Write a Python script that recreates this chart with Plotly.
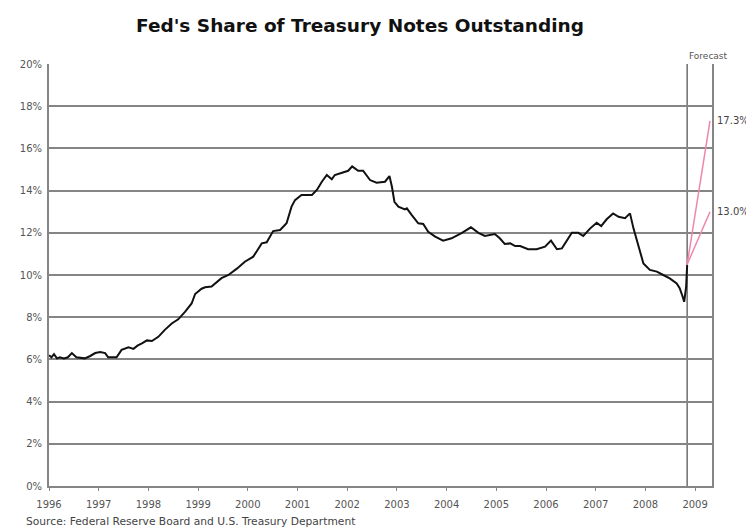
import plotly.graph_objects as go

# ---- data (decimal years, % of Treasury notes outstanding held by the Fed) ----
years = [1996.00, 1996.05, 1996.10, 1996.16, 1996.22, 1996.30, 1996.38, 1996.46, 1996.55, 1996.66,
         1996.72, 1996.82, 1996.93, 1997.03, 1997.13, 1997.19, 1997.28, 1997.36, 1997.46, 1997.53,
         1997.60, 1997.70, 1997.78, 1997.87, 1997.97, 1998.07, 1998.20, 1998.33, 1998.47, 1998.60,
         1998.74, 1998.87, 1998.94, 1999.07, 1999.14, 1999.27, 1999.37, 1999.47, 1999.61, 1999.78,
         1999.94, 2000.11, 2000.20, 2000.28, 2000.38, 2000.51, 2000.65, 2000.78, 2000.88, 2000.95,
         2001.08, 2001.29, 2001.39, 2001.49, 2001.59, 2001.69, 2001.75, 2001.89, 2002.02, 2002.10,
         2002.22, 2002.32, 2002.46, 2002.59, 2002.76, 2002.85, 2002.90, 2002.95, 2003.03, 2003.16,
         2003.20, 2003.30, 2003.43, 2003.53, 2003.63, 2003.77, 2003.93, 2004.10, 2004.30, 2004.49,
         2004.64, 2004.77, 2004.97, 2005.07, 2005.17, 2005.28, 2005.38, 2005.48, 2005.64, 2005.81,
         2005.98, 2006.10, 2006.22, 2006.32, 2006.52, 2006.65, 2006.75, 2006.89, 2007.02, 2007.11,
         2007.22, 2007.35, 2007.46, 2007.59, 2007.69, 2007.76, 2007.86, 2007.96, 2008.09, 2008.23,
         2008.36, 2008.49, 2008.63, 2008.69, 2008.75, 2008.78, 2008.82, 2008.84]
share = [6.20, 6.10, 6.25, 6.05, 6.10, 6.05, 6.10, 6.30, 6.10, 6.05,
         6.05, 6.15, 6.30, 6.35, 6.30, 6.10, 6.10, 6.10, 6.45, 6.50,
         6.57, 6.50, 6.65, 6.76, 6.90, 6.87, 7.07, 7.40, 7.70, 7.90,
         8.26, 8.65, 9.10, 9.35, 9.42, 9.45, 9.65, 9.85, 10.00, 10.30,
         10.63, 10.87, 11.20, 11.50, 11.55, 12.08, 12.13, 12.45, 13.24, 13.55,
         13.79, 13.79, 14.03, 14.42, 14.74, 14.54, 14.74, 14.85, 14.94, 15.15,
         14.94, 14.94, 14.50, 14.37, 14.42, 14.69, 14.18, 13.47, 13.24, 13.11,
         13.16, 12.84, 12.45, 12.42, 12.05, 11.82, 11.63, 11.74, 11.98, 12.26,
         12.00, 11.85, 11.94, 11.74, 11.47, 11.50, 11.37, 11.37, 11.22, 11.22,
         11.34, 11.63, 11.22, 11.26, 12.00, 12.00, 11.85, 12.21, 12.48, 12.32,
         12.64, 12.92, 12.76, 12.69, 12.92, 12.21, 11.34, 10.55, 10.24, 10.16,
         10.00, 9.84, 9.60, 9.37, 8.97, 8.73, 9.45, 10.47]

forecast_start_year = 2008.84
forecast_end_year = 2009.30
forecast_start_value = 10.5
forecast_high = 17.3
forecast_low = 13.0

x_ticks = list(range(1996, 2010))
x_tick_labels = [str(y) for y in x_ticks]
y_ticks = [0, 2, 4, 6, 8, 10, 12, 14, 16, 18, 20]
y_tick_labels = [f"{v}%" for v in y_ticks]

title = "Fed's Share of Treasury Notes Outstanding"
source = "Source: Federal Reserve Board and U.S. Treasury Department"

# ---- figure ----
GRID = "#858585"
PINK = "#ef86ad"
FONT = "DejaVu Sans"
W, H = 746, 520  # page body has an 8px margin

fig = go.Figure()
fig.add_trace(go.Scatter(x=[forecast_start_year, forecast_end_year],
                         y=[forecast_start_value, forecast_high],
                         mode="lines", line=dict(color=PINK, width=1.5), hoverinfo="skip"))
fig.add_trace(go.Scatter(x=[forecast_start_year, forecast_end_year],
                         y=[forecast_start_value, forecast_low],
                         mode="lines", line=dict(color=PINK, width=1.5), hoverinfo="skip"))
fig.add_trace(go.Scatter(x=years, y=share, mode="lines",
                         line=dict(color="#111111", width=2)))

fig.add_shape(type="line", xref="x", yref="y", x0=forecast_start_year, x1=forecast_start_year,
              y0=0, y1=20, line=dict(color="#6e6e6e", width=1.5), layer="below")

fig.update_layout(
    width=W, height=H,
    margin=dict(l=41, r=42, t=56, b=42),
    paper_bgcolor="white", plot_bgcolor="white",
    showlegend=False,
    title=dict(text=title, x=352 / W, xanchor="center", y=1 - 18 / H, yanchor="middle",
               font=dict(family=FONT, size=18.5, color="#111111", weight="bold")),
    font=dict(family=FONT, size=10, color="#555555"),
)
fig.update_xaxes(range=[1996, 2009.34], tickmode="array", tickvals=x_ticks, ticktext=x_tick_labels,
                 showgrid=False, zeroline=False, showline=True, linecolor=GRID, linewidth=2,
                 ticks="outside", ticklen=3, tickcolor=GRID, tickwidth=1, ticklabelstandoff=5,
                 tickfont=dict(family=FONT, size=10, color="#555555"))
fig.update_yaxes(range=[0, 20], tickmode="array", tickvals=y_ticks, ticktext=y_tick_labels,
                 showgrid=True, gridcolor=GRID, gridwidth=1.5, zeroline=False,
                 showline=True, linecolor=GRID, linewidth=2, mirror=True,
                 ticks="", ticklabelstandoff=3,
                 tickfont=dict(family=FONT, size=10, color="#555555"))

fig.add_annotation(text="Forecast", xref="paper", yref="paper", x=(708 - 49) / 663, y=(486 - 56) / 422,
                   xanchor="center", yanchor="middle", showarrow=False,
                   font=dict(family=FONT, size=9, color="#555555"))
fig.add_annotation(text=f"{forecast_high:.1f}%", xref="paper", yref="y", x=(715 - 49) / 663, y=forecast_high,
                   xanchor="left", yanchor="middle", showarrow=False,
                   font=dict(family=FONT, size=10, color="#444444"))
fig.add_annotation(text=f"{forecast_low:.1f}%", xref="paper", yref="y", x=(715 - 49) / 663, y=forecast_low,
                   xanchor="left", yanchor="middle", showarrow=False,
                   font=dict(family=FONT, size=10, color="#444444"))
fig.add_annotation(text=source, xref="paper", yref="paper", x=(24 - 49) / 663, y=(486 - 521) / 422,
                   xanchor="left", yanchor="middle", showarrow=False,
                   font=dict(family=FONT, size=10.7, color="#444444"))

fig.write_html("out.html")
